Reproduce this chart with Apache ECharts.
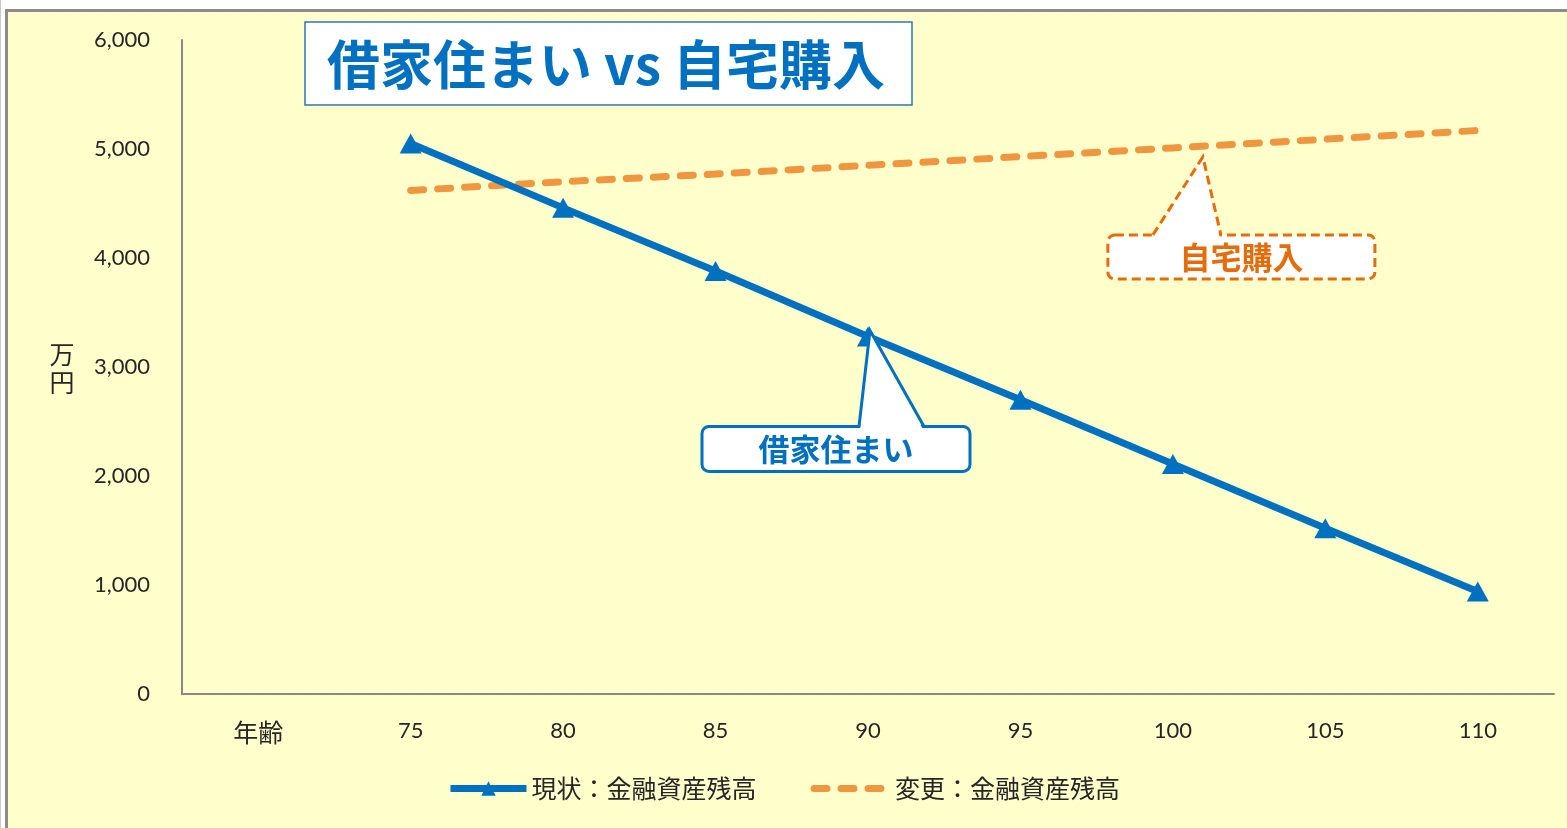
<!DOCTYPE html>
<html>
<head>
<meta charset="utf-8">
<script src="https://cdn.jsdelivr.net/npm/echarts@6/dist/echarts.min.js"></script>
<style>
  html, body { margin: 0; padding: 0; background: #fff; }
  #chart { width: 1567px; height: 828px; }
</style>
</head>
<body>
<div id="chart"></div>
<script>
const ages = ['年齢', '75', '80', '85', '90', '95', '100', '105', '110']
const current = [null, 5050, 4460, 3880, 3280, 2700, 2110, 1520, 940]
const changed = [null, 4620, 4700, 4770, 4850, 4930, 5010, 5090, 5170]
const seriesNames = ['現状：金融資産残高', '変更：金融資産残高']

const blue = '#0070C0'
const orange = '#F0963F'
const orangeDark = '#E46C0A'
const numFont = 'Lato, "Noto Sans CJK JP", sans-serif'
const jpFont = '"Noto Sans CJK JP", sans-serif'

const chart = echarts.init(document.getElementById('chart'))

chart.setOption({
  animation: false,
  backgroundColor: '#FFFFCC',
  grid: { left: 182, right: 13, top: 40, bottom: 134 },
  legend: {
    data: [
      { name: seriesNames[0] },
      { name: seriesNames[1], itemStyle: { opacity: 0 } },
    ],
    bottom: 22,
    left: 'center',
    itemWidth: 76,
    itemHeight: 18,
    itemGap: 54,
    lineStyle: { width: 7 },
    textStyle: { fontFamily: jpFont, fontSize: 25, color: '#262626' },
  },
  xAxis: {
    type: 'category',
    data: ages,
    boundaryGap: true,
    axisLine: { lineStyle: { color: '#898989', width: 2 } },
    axisTick: { show: false },
    axisLabel: {
      margin: 26,
      fontSize: 22,
      color: '#262626',
      fontFamily: numFont,
      formatter: (v) => (v === '年齢' ? '{jp|' + v + '}' : v),
      rich: { jp: { fontSize: 25, fontFamily: jpFont, color: '#262626' } },
    },
  },
  yAxis: {
    type: 'value',
    min: 0,
    max: 6000,
    interval: 1000,
    splitLine: { show: false },
    axisLine: { show: true, lineStyle: { color: '#898989', width: 2 } },
    axisTick: { show: false },
    axisLabel: {
      margin: 32,
      fontSize: 22,
      color: '#262626',
      fontFamily: numFont,
      formatter: (v) => v.toLocaleString('en-US'),
    },
  },
  series: [
    {
      name: seriesNames[0],
      type: 'line',
      data: current,
      symbol: 'triangle',
      symbolSize: [22, 20],
      color: blue,
      lineStyle: { color: blue, width: 7 },
      itemStyle: { color: blue },
      z: 3,
    },
    {
      name: seriesNames[1],
      type: 'line',
      data: changed,
      symbol: 'none',
      color: orange,
      lineStyle: { color: orange, width: 7, type: [13, 14], cap: 'round' },
      z: 2,
    },
  ],
})

// 吹き出し（データ点から位置を計算）
function callout(anchor, o, stroke, dash, text, textColor) {
  const [ax, ay] = anchor
  const x0 = ax + o.left
  const y0 = ay + o.top
  const w = o.right - o.left
  const h = o.bottom - o.top
  const tip = [ax + o.tip[0], ay + o.tip[1]]
  const b1 = [ax + o.base[0], y0]
  const b2 = [ax + o.base[1], y0]
  return [
    {
      type: 'rect',
      shape: { x: x0, y: y0, width: w, height: h, r: 7 },
      style: { fill: '#fff', stroke: stroke, lineWidth: 3, lineDash: dash },
      z: 10,
    },
    {
      type: 'polygon',
      shape: { points: [[b1[0] + 1, y0 + 3], tip, [b2[0] - 1, y0 + 3]] },
      style: { fill: '#fff' },
      z: 11,
    },
    {
      type: 'polyline',
      shape: { points: [b1, tip, b2] },
      style: { stroke: stroke, lineWidth: 3, fill: null, lineDash: dash },
      z: 12,
    },
    {
      type: 'text',
      x: x0 + w / 2,
      y: y0 + h / 2,
      style: {
        text: text,
        fill: textColor,
        font: 'bold 31px ' + jpFont,
        align: 'center',
        verticalAlign: 'middle',
      },
      z: 13,
    },
  ]
}

const pBlue = chart.convertToPixel({ xAxisIndex: 0, yAxisIndex: 0 }, [4, current[4]])
const pOrange = chart.convertToPixel({ xAxisIndex: 0, yAxisIndex: 0 }, [6, changed[6]])

const graphics = [
  // 外枠
  { type: 'rect', shape: { x: 0, y: 0, width: 1567, height: 9 }, style: { fill: '#fff' }, z: 20 },
  { type: 'rect', shape: { x: 0, y: 0, width: 5, height: 828 }, style: { fill: '#fff' }, z: 20 },
  { type: 'line', shape: { x1: 0.5, y1: 0, x2: 0.5, y2: 828 }, style: { stroke: '#c8c8c8', lineWidth: 1 }, z: 21 },
  { type: 'line', shape: { x1: 6.5, y1: 9, x2: 6.5, y2: 828 }, style: { stroke: '#8c8c8c', lineWidth: 3 }, z: 21 },
  { type: 'line', shape: { x1: 5, y1: 10.5, x2: 1567, y2: 10.5 }, style: { stroke: '#8c8c8c', lineWidth: 3 }, z: 21 },
  // タイトル
  {
    type: 'rect',
    shape: { x: 305, y: 22, width: 607, height: 83 },
    style: { fill: '#fff', stroke: '#2E75B6', lineWidth: 1.5 },
    z: 10,
  },
  {
    type: 'text',
    x: 606,
    y: 65,
    style: {
      text: '借家住まい vs 自宅購入',
      fill: blue,
      font: 'bold 53px ' + jpFont,
      align: 'center',
      verticalAlign: 'middle',
    },
    z: 11,
  },
  // 縦軸単位
  {
    type: 'text',
    x: 62,
    y: 368,
    style: {
      text: '万\n円',
      fill: '#262626',
      font: '25px ' + jpFont,
      align: 'center',
      verticalAlign: 'middle',
      lineHeight: 28,
    },
  },
  ...callout(
    pBlue,
    { left: -166, right: 102, top: 90, bottom: 135, tip: [2, -6], base: [-9, 56] },
    blue, null, '借家住まい', blue
  ),
  ...callout(
    pOrange,
    { left: -65, right: 202, top: 87, bottom: 131, tip: [30, 9], base: [-20, 48] },
    orangeDark, [9, 5], '自宅購入', orangeDark
  ),
]

chart.setOption({ graphic: graphics })

window.addEventListener('resize', () => chart.resize())
</script>
</body>
</html>
